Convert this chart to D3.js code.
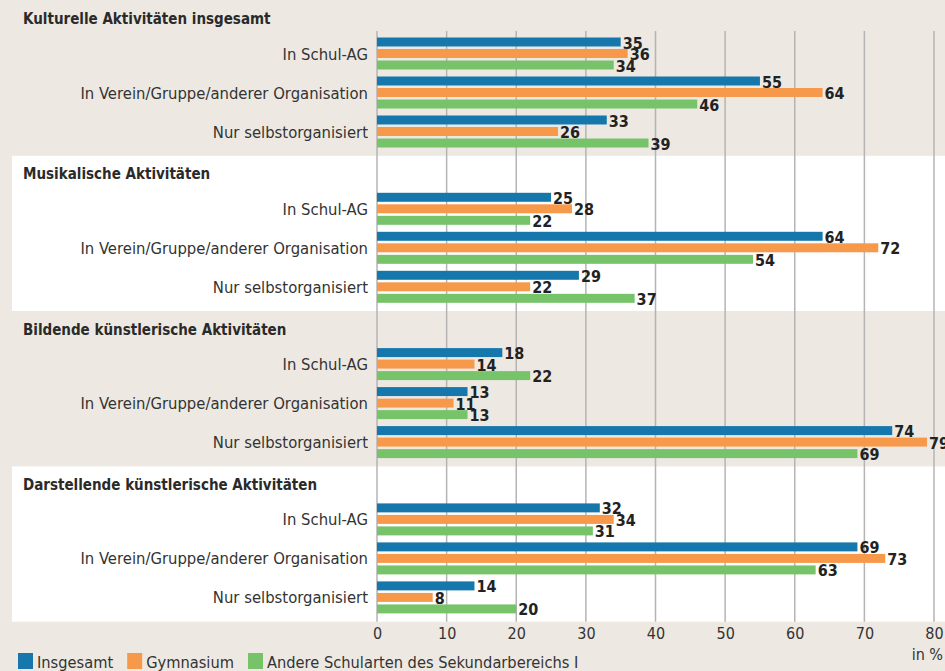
<!DOCTYPE html>
<html><head><meta charset="utf-8">
<script src="https://cdn.jsdelivr.net/npm/d3@7"></script>
<style>
html,body{margin:0;padding:0;background:#ede9e2;}
svg{display:block;}
text{font-family:"Liberation Sans Narrow","DejaVu Sans Condensed",sans-serif;}
</style></head>
<body>
<svg id="chart" width="945" height="671"></svg>
<script>
const panels = ["Kulturelle Aktivitäten insgesamt","Musikalische Aktivitäten","Bildende künstlerische Aktivitäten","Darstellende künstlerische Aktivitäten"];
const categories = ["In Schul-AG","In Verein/Gruppe/anderer Organisation","Nur selbstorganisiert"];
const series = ["Insgesamt","Gymnasium","Andere Schularten des Sekundarbereichs I"];
const colors = ["#1577ab","#f7994a","#76c36a"];
// values[panel][category] = [Insgesamt, Gymnasium, Andere]
const kulturell = [[35,36,34],[55,64,46],[33,26,39]];
const musikalisch = [[25,28,22],[64,72,54],[29,22,37]];
const bildend = [[18,14,22],[13,11,13],[74,79,69]];
const darstellend = [[32,34,31],[69,73,63],[14,8,20]];
const values = [kulturell, musikalisch, bildend, darstellend];
const ticks = [0,10,20,30,40,50,60,70,80];

const svg = d3.select("#chart");
const W = 945;
const x = d3.scaleLinear().domain([0,80]).range([377,934]);
const panelY = d3.scaleBand().domain(d3.range(4)).range([0.5,621.7]).paddingInner(0).paddingOuter(0);
const catY = d3.scaleBand().domain(d3.range(3)).range([37,37+117]);
const serY = d3.scaleBand().domain(d3.range(3)).range([0,32]).paddingInner(0.22).paddingOuter(0);

// panel backgrounds
svg.append("rect").attr("x",0).attr("y",0).attr("width",W).attr("height",671).attr("fill","#ede9e2");
svg.selectAll("rect.panel").data(d3.range(4)).join("rect")
  .attr("class","panel")
  .attr("x",12).attr("y",i=>panelY(i)).attr("width",W-12).attr("height",panelY.bandwidth())
  .attr("fill",i=> i%2===1 ? "#ffffff" : "#ede9e2");

// gridlines
svg.selectAll("line.grid").data(ticks).join("line")
  .attr("class","grid")
  .attr("x1",d=>x(d)).attr("x2",d=>x(d))
  .attr("y1",31).attr("y2",621.7)
  .attr("stroke","#b4b4b4").attr("stroke-width",1.5);

const g = svg.selectAll("g.panel").data(values).join("g")
  .attr("class","panel")
  .attr("transform",(d,i)=>`translate(0,${panelY(i)})`);

g.append("text")
  .attr("x",23).attr("y",23.5)
  .attr("font-size",15).attr("font-weight","bold").attr("fill","#2a2a2a")
  .text((d,i)=>panels[i]);

const cg = g.selectAll("g.cat").data(d=>d).join("g")
  .attr("class","cat")
  .attr("transform",(d,j)=>`translate(0,${catY(j)})`);

cg.append("text")
  .attr("x",368).attr("y",serY(1)+serY.bandwidth()/2+6)
  .attr("text-anchor","end").attr("font-size",16.5).attr("fill","#333")
  .text((d,j)=>categories[j]);

cg.selectAll("rect.bar").data(d=>d).join("rect")
  .attr("class","bar")
  .attr("x",x(0)).attr("y",(d,k)=>serY(k))
  .attr("width",d=>x(d)-x(0)).attr("height",serY.bandwidth())
  .attr("fill",(d,k)=>colors[k]);

cg.selectAll("text.val").data(d=>d).join("text")
  .attr("class","val")
  .attr("x",d=>x(d)+2).attr("y",(d,k)=>serY(k)+serY.bandwidth()/2+6.5)
  .attr("font-size",16).attr("font-weight","bold").attr("fill","#222")
  .text(d=>d);

// axis
const axis = svg.append("g").attr("transform","translate(0,622)")
  .call(d3.axisBottom(x).tickValues(ticks).tickSize(0).tickPadding(6).tickFormat(d3.format("d")));
axis.select(".domain").remove();
axis.selectAll("text").attr("font-size",16).attr("fill","#333")
  .style("font-family",'"Liberation Sans Narrow","DejaVu Sans Condensed",sans-serif');

svg.append("text").attr("x",943).attr("y",660).attr("text-anchor","end")
  .attr("font-size",16).attr("fill","#333").text("in %");

// legend
let lx = 18;
series.forEach((s,k)=>{
  svg.append("rect").attr("x",lx).attr("y",653).attr("width",15).attr("height",16).attr("fill",colors[k]);
  const t = svg.append("text").attr("x",lx+19).attr("y",668).attr("font-size",16.3).attr("fill","#333").text(s);
  lx += 19 + t.node().getComputedTextLength() + 14;
});
</script>
</body></html>
